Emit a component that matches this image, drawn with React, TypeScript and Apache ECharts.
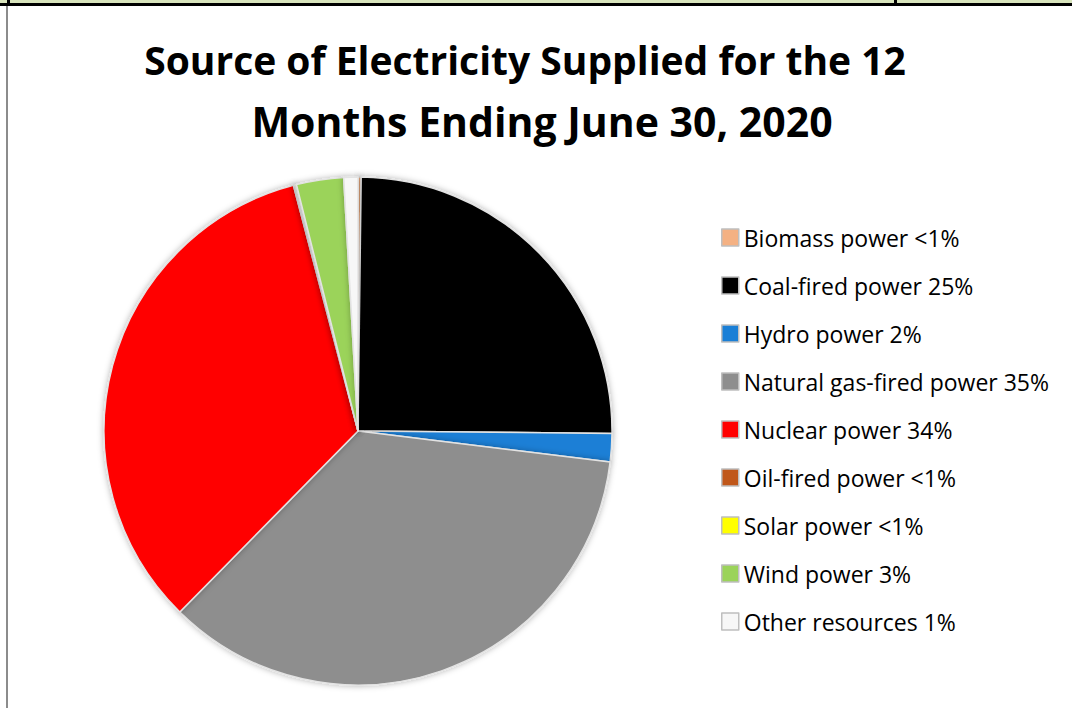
import React, { useEffect, useRef } from "react";
import * as echarts from "echarts";

const categories = [
  "Biomass power",
  "Coal-fired power",
  "Hydro power",
  "Natural gas-fired power",
  "Nuclear power",
  "Oil-fired power",
  "Solar power",
  "Wind power",
  "Other resources",
];
const values = [0.2, 25.0, 1.8, 35.5, 33.6, 0.1, 0.1, 3.0, 0.9];
const pctLabels = ["<1%", "25%", "2%", "35%", "34%", "<1%", "<1%", "3%", "1%"];
const colors = [
  "#f4b183",
  "#000000",
  "#1a7fd6",
  "#8e8e8e",
  "#ff0000",
  "#c0571a",
  "#ffff00",
  "#9bd35a",
  "#f7f7f7",
];
const titleLines = [
  "Source of Electricity Supplied for the 12",
  "Months Ending June 30, 2020",
];

export default function App() {
  const ref = useRef<HTMLDivElement>(null);
  useEffect(() => {
    if (!ref.current) return;
    const chart = echarts.init(ref.current, undefined, { renderer: "svg" });
    const labelMap: Record<string, string> = {};
    categories.forEach((c, i) => (labelMap[c] = `${c} ${pctLabels[i]}`));
    const titleStyle = {
      fontFamily: "Open Sans",
      fontWeight: "bold",
      fontSize: 39,
      color: "#000000",
    };
    chart.setOption({
      animation: false,
      backgroundColor: "#ffffff",
      title: [
        {
          text: titleLines[0],
          left: 525,
          top: 36,
          padding: 0,
          textAlign: "center",
          textStyle: { ...titleStyle, lineHeight: 46 },
        },
        {
          text: titleLines[1],
          left: 542,
          top: 98,
          padding: 0,
          textAlign: "center",
          textStyle: { ...titleStyle, fontSize: 41, lineHeight: 46 },
        },
      ],
      legend: {
        orient: "vertical",
        left: 721,
        top: 226,
        padding: 0,
        itemWidth: 17,
        itemHeight: 17,
        itemGap: 25,
        icon: "rect",
        selectedMode: false,
        formatter: (name: string) => labelMap[name],
        textStyle: {
          fontFamily: "Open Sans",
          fontSize: 23,
          lineHeight: 22,
          color: "#000000",
        },
        itemStyle: { borderColor: "#bfbfbf", borderWidth: 1.5, shadowBlur: 0 },
        data: categories,
      },
      graphic: [
        { type: "rect", shape: { x: 0, y: 0, width: 1072, height: 3 }, style: { fill: "#d8e4bc" } },
        { type: "rect", shape: { x: 0, y: 3, width: 1072, height: 3 }, style: { fill: "#000000" } },
        { type: "rect", shape: { x: 7, y: 0, width: 3, height: 6 }, style: { fill: "#000000" } },
        { type: "rect", shape: { x: 894, y: 0, width: 3, height: 6 }, style: { fill: "#000000" } },
        { type: "rect", shape: { x: 6, y: 6, width: 2, height: 702 }, style: { fill: "#8c8c8c" } },
      ],
      series: [
        {
          type: "pie",
          center: [358, 431],
          radius: 254,
          startAngle: 90,
          clockwise: true,
          label: { show: false },
          labelLine: { show: false },
          silent: true,
          itemStyle: {
            borderColor: "#e3e3e3",
            borderWidth: 1.5,
            shadowBlur: 6,
            shadowColor: "rgba(0,0,0,0.3)",
          },
          data: categories.map((c, i) => ({
            name: c,
            value: values[i],
            itemStyle: { color: colors[i] },
          })),
        },
      ],
    });
    return () => chart.dispose();
  }, []);
  return (
    <div
      ref={ref}
      style={{ position: "absolute", left: 0, top: 0, width: 1072, height: 708 }}
    />
  );
}
